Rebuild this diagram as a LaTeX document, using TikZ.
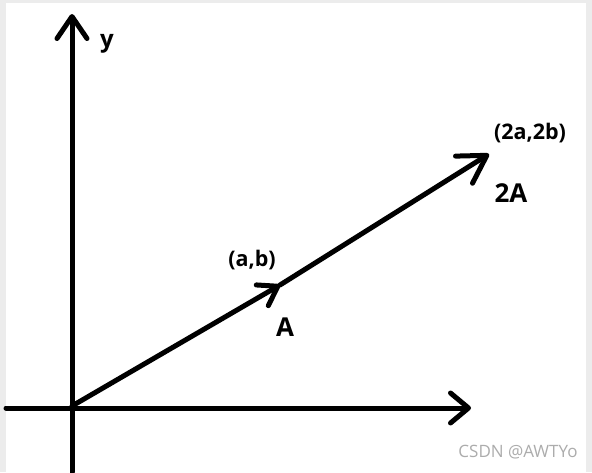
\documentclass[tikz,border=0pt]{standalone}
\usepackage{fontspec}
\setmainfont{Open Sans}
\usetikzlibrary{arrows.meta}
\tikzset{
  axis/.style={line width=5pt, line cap=round, line join=round},
  barb/.style={-{Straight Barb[length=#1, width=30pt, line width=5pt, round]}},
  lab/.style={font=\bfseries\fontsize{21.5}{24}\selectfont, inner sep=0pt},
  biglab/.style={font=\bfseries\fontsize{26}{28}\selectfont, inner sep=0pt},
}
\begin{document}
\begin{tikzpicture}[x=1pt,y=-1pt]
  \fill[gray!15] (0,0) rectangle (592,472);
  \fill[white] (6,3) rectangle (586,472);
  \useasboundingbox (0,0) rectangle (592,472);
  % coordinates
  \coordinate (ytop) at (72,14);
  \coordinate (ybot) at (72,472);
  \coordinate (xl) at (6,408);
  \coordinate (xr) at (471,408);
  \coordinate (o) at (72,406);
  \coordinate (m) at (280,285);
  \coordinate (b) at (489,154);
  % axes
  \draw[axis, barb=22pt] (ybot) -- (ytop);
  \draw[axis, barb=18pt] (xl) -- (xr);
  % vectors
  \draw[axis, -{Straight Barb[length=18pt, width=24pt, line width=5pt, round]}] (o) -- (m);
  \draw[axis, -{Straight Barb[length=27pt, width=32pt, line width=5pt, round]}] (m) -- (b);
  % labels
  \node[lab, font=\bfseries\fontsize{24}{26}\selectfont] (ly) at (107,44) {y};
  \node[lab] (lab1) at (252,260) {(a,b)};
  \node[biglab] (la) at (285,327) {A};
  \node[lab] (lab2) at (530,133) {(2a,2b)};
  \node[biglab] (l2a) at (511,193) {2A};
  \node[inner sep=0pt, text=gray!65, font=\fontsize{17}{18}\selectfont] (wm) at (518,452) {CSDN @AWTYo};
\end{tikzpicture}
\end{document}
